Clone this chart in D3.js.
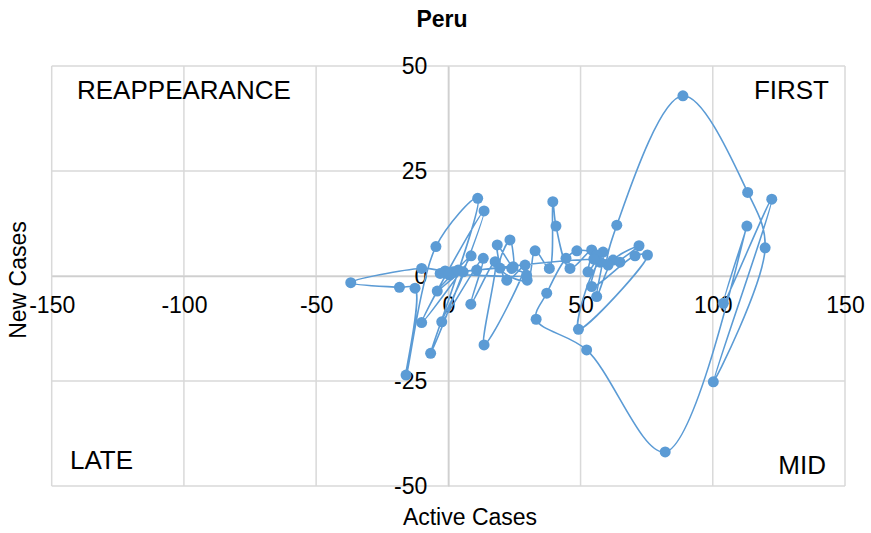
<!DOCTYPE html>
<html><head><meta charset="utf-8">
<script src="https://cdn.jsdelivr.net/npm/d3@7"></script>
<style>body{margin:0;background:#fff}svg{display:block;font-family:"Liberation Sans",Arial,sans-serif}</style>
</head><body><svg id="c" width="871" height="533"></svg>
<script>
const title = "Peru";
const xTicks = [-150,-100,-50,0,50,100,150];
const yTicks = [-50,-25,0,25,50];
const activeCases = [0.5,1.8,3.7,-1.2,-10.1,-36.9,-18.5,-12.6,-16.0,-4.7,11.1,-6.7,13.5,-10.1,8.6,-4.2,5.6,-2.5,13.2,8.5,17.7,13.5,29.0,22.1,18.5,24.5,23.3,19.5,29.8,32.8,38.2,39.5,40.7,46.0,54.2,52.8,58.5,56.1,62.3,72.1,60.4,63.7,88.7,113.2,119.8,100.2,122.3,104.0,112.9,82.0,52.3,33.2,37.2,44.5,48.6,56.1,54.2,70.6,75.3,49.2,57.4,64.9,55.0,-0.6,10.7,24.0,29.6,-3.1];
const newCases    = [0.3,1.0,1.4,1.2,1.8,-1.6,-2.7,-2.9,-23.6,7.0,18.5,-18.4,15.5,-11.1,4.8,-3.6,1.0,-10.9,4.2,-6.7,3.4,-16.4,2.6,-1.0,7.4,2.2,8.6,1.9,-1.0,6.0,1.8,17.7,11.9,1.8,6.2,1.0,5.7,-4.9,3.8,7.2,2.6,12.1,42.9,19.9,6.7,-25.2,18.3,-6.5,11.9,-41.9,-17.6,-10.3,-4.1,4.2,6.0,5.0,-2.5,4.8,5.0,-12.7,3.3,3.3,4.0,0.6,1.4,1.8,0.2,0.6];
const quadrantLabels = ["FIRST","REAPPEARANCE","LATE","MID"];
const xTitle = "Active Cases", yTitle = "New Cases";

const svg = d3.select("#c");
const x = d3.scaleLinear().domain([-150,150]).range([51.7,845]);
const y = d3.scaleLinear().domain([-50,50]).range([486,66]);
const grid = "#d9d9d9";
const fmt = d => String(d);

// grid
svg.append("g").selectAll("line").data(xTicks).join("line")
  .attr("x1",d=>x(d)).attr("x2",d=>x(d)).attr("y1",y(50)).attr("y2",y(-50))
  .attr("stroke",grid).attr("stroke-width",1.5);
svg.append("g").selectAll("line").data(yTicks).join("line")
  .attr("x1",x(-150)).attr("x2",x(150)).attr("y1",d=>y(d)).attr("y2",d=>y(d))
  .attr("stroke",grid).attr("stroke-width",1.5);

// axes crossing at zero
const xAxis = d3.axisBottom(x).tickValues(xTicks).tickFormat(fmt).tickSize(0).tickPadding(21);
const gx = svg.append("g").attr("transform",`translate(0,${y(0)})`).call(xAxis);
gx.select(".domain").attr("stroke","#cfcfcf").attr("stroke-width",1.5);
gx.selectAll("text").attr("font-size",23).attr("fill","#000").attr("font-family","Liberation Sans, Arial, sans-serif");
const yAxis = d3.axisLeft(y).tickValues(yTicks).tickFormat(fmt).tickSize(0).tickPadding(21);
const gy = svg.append("g").attr("transform",`translate(${x(0)},0)`).call(yAxis);
gy.select(".domain").attr("stroke","#cfcfcf").attr("stroke-width",1.5);
gy.selectAll("text").attr("font-size",23).attr("fill","#000").attr("font-family","Liberation Sans, Arial, sans-serif");

// series
const pts = activeCases.map((a,i)=>[a,newCases[i]]);
const color = "#5b9bd5";
svg.append("path").datum(pts)
  .attr("d",d3.line().x(d=>x(d[0])).y(d=>y(d[1])).curve(d3.curveCatmullRom.alpha(0.5)))
  .attr("fill","none").attr("stroke",color).attr("stroke-width",1.6);
svg.append("g").selectAll("circle").data(pts).join("circle")
  .attr("cx",d=>x(d[0])).attr("cy",d=>y(d[1])).attr("r",5.5).attr("fill",color);

// quadrant labels
const ql = svg.append("g").attr("font-size",26).attr("fill","#000");
ql.append("text").attr("x",829).attr("y",99).attr("text-anchor","end").text(quadrantLabels[0]);
ql.append("text").attr("x",77).attr("y",99).text(quadrantLabels[1]);
ql.append("text").attr("x",70).attr("y",469).text(quadrantLabels[2]);
ql.append("text").attr("x",826).attr("y",474).attr("text-anchor","end").text(quadrantLabels[3]);

// titles
svg.append("text").attr("x",442).attr("y",27).attr("text-anchor","middle")
  .attr("font-size",23).attr("font-weight","bold").text(title);
svg.append("text").attr("x",470).attr("y",525).attr("text-anchor","middle")
  .attr("font-size",23).text(xTitle);
svg.append("text").attr("transform","translate(26,280) rotate(-90)").attr("text-anchor","middle")
  .attr("font-size",23).text(yTitle);
</script></body></html>
